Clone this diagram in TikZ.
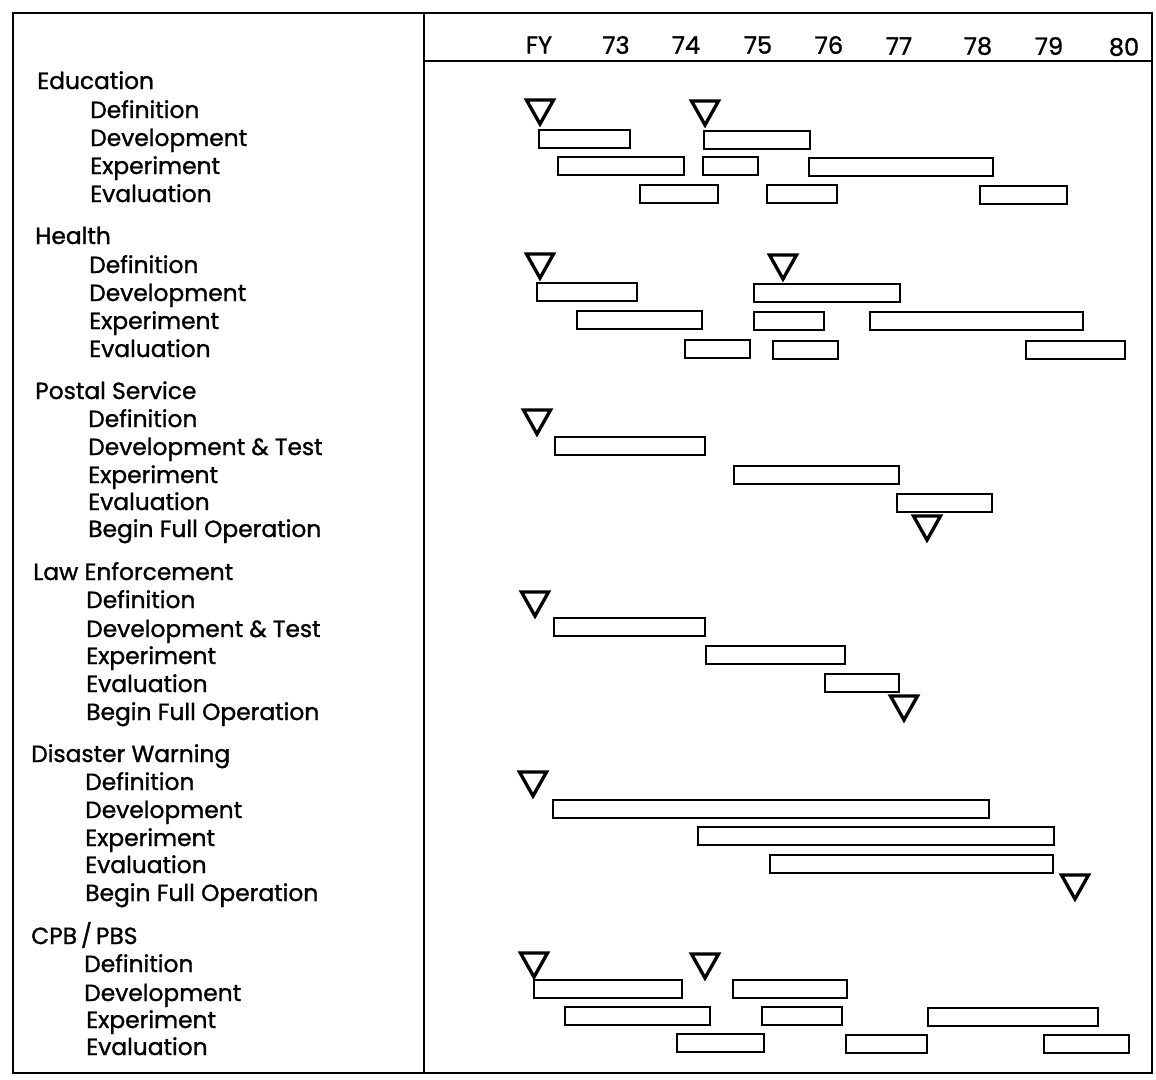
\documentclass[tikz,border=0pt]{standalone}
\usepackage{fontspec}
\setmainfont{Poppins}[FakeBold=1.2]
\newcommand\ganttbar[3]{\draw[gbar] (#1,#3-9) rectangle (#2,#3+9);}
\newcommand\milestone[2]{\draw[mile] (#1-13.5,#2) -- (#1+13.5,#2) -- (#1,#2+24) -- cycle;}
\begin{document}
\begin{tikzpicture}[x=0.75pt,y=-0.75pt,
  frame/.style={line width=1.6pt},
  gbar/.style={draw, line width=2.1pt},
  mile/.style={draw, line width=2.5pt, line join=miter},
  lab/.style={anchor=base west, inner sep=0pt, font=\fontsize{17.5}{20}\selectfont},
  yr/.style={anchor=center, inner sep=0pt, font=\fontsize{18}{20}\selectfont}]
\useasboundingbox (0,0) rectangle (1156,1079);
% frame
\draw[frame] (13,13) rectangle (1152,1073);
\draw[frame] (424,13) -- (424,1073);
\draw[frame] (424,61) -- (1152,61);
% header
\node[yr] (fy) at (539,45) {FY};
\node[yr] (y73) at (616,45) {73};
\node[yr] (y74) at (686,45) {74};
\node[yr] (y75) at (758,45) {75};
\node[yr] (y76) at (829,45) {76};
\node[yr] (y77) at (899,46) {77};
\node[yr] (y78) at (978,46) {78};
\node[yr] (y79) at (1049,46) {79};
\node[yr] (y80) at (1124,47) {80};
% Education
\node[lab] (edu) at (37,89) {Education};
\node[lab] (edudef) at (90,118) {Definition};
\node[lab] (edudev) at (90,146) {Development};
\node[lab] (eduexp) at (90,174) {Experiment};
\node[lab] (edueva) at (90,202) {Evaluation};
\milestone{540}{100}
\milestone{705}{101}
\ganttbar{539}{630}{139}
\ganttbar{704}{810}{140}
\ganttbar{558}{684}{166}
\ganttbar{703}{758}{166}
\ganttbar{809}{993}{167}
\ganttbar{640}{718}{194}
\ganttbar{767}{837}{194}
\ganttbar{980}{1067}{195}
% Health
\node[lab] (hea) at (35,244) {Health};
\node[lab] (headef) at (89,273) {Definition};
\node[lab] (headev) at (89,301) {Development};
\node[lab] (heaexp) at (89,329) {Experiment};
\node[lab] (heaeva) at (89,357) {Evaluation};
\milestone{540}{254}
\milestone{783}{255}
\ganttbar{537}{637}{292}
\ganttbar{754}{900}{293}
\ganttbar{577}{702}{320}
\ganttbar{754}{824}{321}
\ganttbar{870}{1083}{321}
\ganttbar{685}{750}{349}
\ganttbar{773}{838}{350}
\ganttbar{1026}{1125}{350}
% Postal Service
\node[lab] (pos) at (35,399) {Postal Service};
\node[lab] (posdef) at (88,427) {Definition};
\node[lab] (posdev) at (88,455) {Development \& Test};
\node[lab] (posexp) at (88,483) {Experiment};
\node[lab] (poseva) at (88,510) {Evaluation};
\node[lab] (posbeg) at (88,537) {Begin Full Operation};
\milestone{537}{410}
\ganttbar{555}{705}{446}
\ganttbar{734}{899}{475}
\ganttbar{897}{992}{503}
\milestone{927}{516}
% Law Enforcement
\node[lab] (law) at (33,580) {Law Enforcement};
\node[lab] (lawdef) at (86,608) {Definition};
\node[lab] (lawdev) at (86,637) {Development \& Test};
\node[lab] (lawexp) at (86,664) {Experiment};
\node[lab] (laweva) at (86,692) {Evaluation};
\node[lab] (lawbeg) at (86,720) {Begin Full Operation};
\milestone{535}{592}
\ganttbar{554}{705}{627}
\ganttbar{706}{845}{655}
\ganttbar{825}{899}{683}
\milestone{904}{696}
% Disaster Warning
\node[lab] (dis) at (31,762) {Disaster Warning};
\node[lab] (disdef) at (85,790) {Definition};
\node[lab] (disdev) at (85,818) {Development};
\node[lab] (disexp) at (85,846) {Experiment};
\node[lab] (diseva) at (85,873) {Evaluation};
\node[lab] (disbeg) at (85,901) {Begin Full Operation};
\milestone{533}{772}
\ganttbar{553}{989}{809}
\ganttbar{698}{1054}{836}
\ganttbar{770}{1053}{864}
\milestone{1075}{875}
% CPB/PBS
\node[lab] (cpb) at (31,944) {CPB\,/\,PBS};
\node[lab] (cpbdef) at (84,972) {Definition};
\node[lab] (cpbdev) at (84,1001) {Development};
\node[lab] (cpbexp) at (86,1028) {Experiment};
\node[lab] (cpbeva) at (86,1055) {Evaluation};
\milestone{534}{953}
\milestone{705}{954}
\ganttbar{534}{682}{989}
\ganttbar{733}{847}{989}
\ganttbar{565}{710}{1016}
\ganttbar{762}{842}{1016}
\ganttbar{928}{1098}{1017}
\ganttbar{677}{764}{1043}
\ganttbar{846}{927}{1044}
\ganttbar{1044}{1129}{1044}
\end{tikzpicture}
\end{document}
